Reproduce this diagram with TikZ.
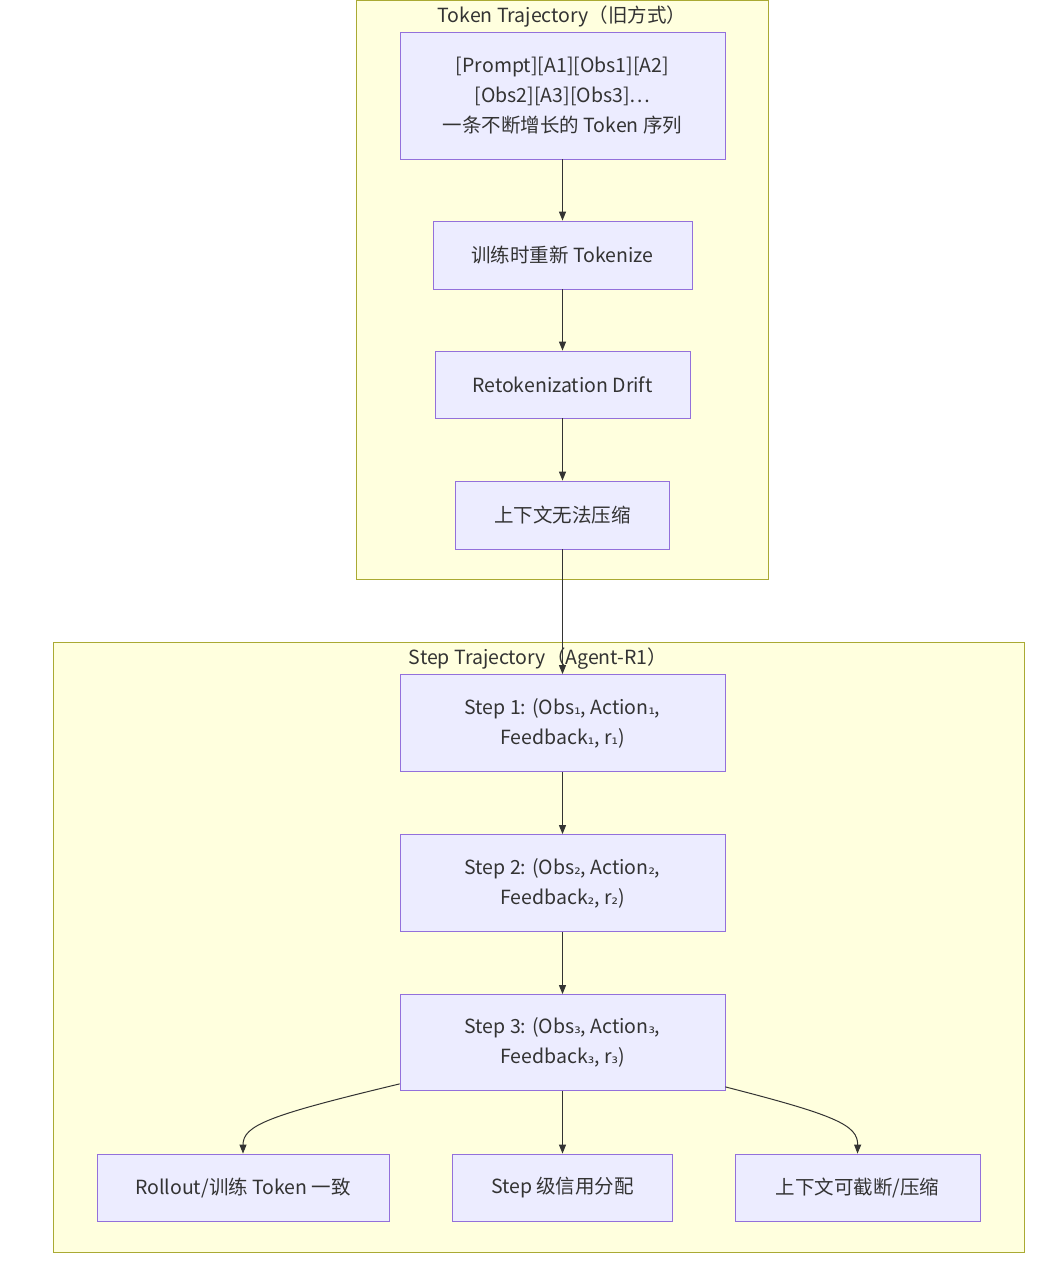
\documentclass[tikz,border=0pt]{standalone}
\usepackage{fontspec}
\setmainfont{Noto Sans CJK SC}
\newfontfamily\subfont{DejaVu Sans}
\usetikzlibrary{arrows.meta}

\definecolor{clusterfill}{HTML}{FFFFDE}
\definecolor{clusterline}{HTML}{AAAA33}
\definecolor{boxfill}{HTML}{ECECFF}
\definecolor{boxline}{HTML}{9370DB}
\definecolor{inkgray}{HTML}{333333}

% Unicode subscript digit in a font that has it
\newcommand{\sd}[1]{{\subfont\fontsize{16}{30}\selectfont #1}}

\tikzset{
    cluster/.style={draw=clusterline, fill=clusterfill, line width=.8pt},
    stepbox/.style={draw=boxline, fill=boxfill, line width=.8pt, align=center,
        text=inkgray, inner sep=0pt, font=\fontsize{19.5}{30}\selectfont},
    flow/.style={draw=inkgray, line width=1pt, -{Triangle[length=9pt,width=7pt]}},
    title/.style={text=inkgray, font=\fontsize{19.5}{20}\selectfont}
}

\begin{document}
\begin{tikzpicture}[x=1pt, y=-1pt]
    % Canvas size (pixels of the reference)
    \useasboundingbox[fill=white] (0,0) rectangle (1040,1261);

    % Clusters
    \draw[cluster] (356,0) rectangle (768,579);
    \draw[cluster] (53,642) rectangle (1024,1252);
    \node[title] (tokentitle) at (562,17) {Token Trajectory（旧方式）};
    \node[title] (steptitle) at (538,659) {Step Trajectory（Agent-R1）};

    % Old way: token trajectory
    \node[stepbox, minimum width=325pt, minimum height=127pt] (prompt) at (562.5,95.5)
        {[Prompt][A1][Obs1][A2]\\{}[Obs2][A3][Obs3]…\\一条不断增长的 Token 序列};
    \node[stepbox, minimum width=259pt, minimum height=68pt] (retok) at (562.5,255)
        {训练时重新 Tokenize};
    \node[stepbox, minimum width=255pt, minimum height=67pt] (drift) at (562.5,384.5)
        {Retokenization Drift};
    \node[stepbox, minimum width=214pt, minimum height=68pt] (nocompress) at (562.5,515)
        {上下文无法压缩};

    % Agent-R1: step trajectory
    \node[stepbox, minimum width=325pt, minimum height=97pt] (step1) at (562.5,723)
        {Step 1: (Obs\sd{₁}, Action\sd{₁},\\Feedback\sd{₁}, r\sd{₁})};
    \node[stepbox, minimum width=325pt, minimum height=97pt] (step2) at (562.5,883)
        {Step 2: (Obs\sd{₂}, Action\sd{₂},\\Feedback\sd{₂}, r\sd{₂})};
    \node[stepbox, minimum width=325pt, minimum height=96pt] (step3) at (562.5,1042.5)
        {Step 3: (Obs\sd{₃}, Action\sd{₃},\\Feedback\sd{₃}, r\sd{₃})};

    % Outcomes
    \node[stepbox, minimum width=292pt, minimum height=67pt] (consistent) at (243,1187.5)
        {Rollout/训练 Token 一致};
    \node[stepbox, minimum width=220pt, minimum height=67pt] (credit) at (562.5,1187.5)
        {Step 级信用分配};
    \node[stepbox, minimum width=245pt, minimum height=67pt] (truncate) at (857.5,1187.5)
        {上下文可截断/压缩};

    % Arrows
    \draw[flow] (prompt) -- (retok);
    \draw[flow] (retok) -- (drift);
    \draw[flow] (drift) -- (nocompress);
    \draw[flow] (nocompress.south) -- (step1.north);
    \draw[flow] (step1) -- (step2);
    \draw[flow] (step2) -- (step3);
    \draw[flow] (step3) -- (credit);
    \draw[flow] ([yshift=7pt]step3.south west) .. controls (270,1115) and (243,1125) .. (consistent.north);
    \draw[flow] ([yshift=4pt]step3.south east) .. controls (835,1115) and (858,1125) .. (truncate.north);
\end{tikzpicture}
\end{document}
